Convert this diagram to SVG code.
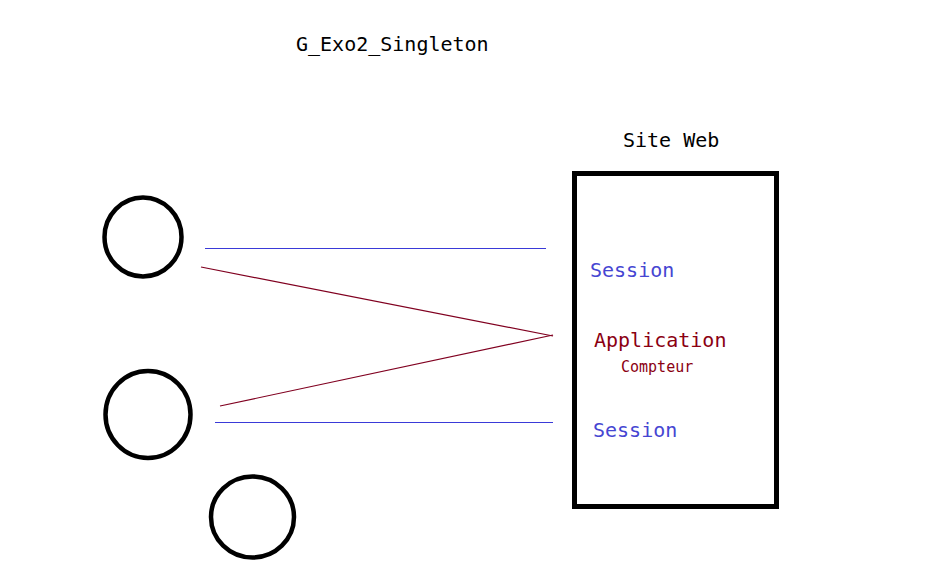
<svg xmlns="http://www.w3.org/2000/svg" width="927" height="563" viewBox="0 0 927 563">
<style>
text{font-family:"DejaVu Sans Mono","Liberation Mono",monospace;font-size:20px}
.title{fill:#000}
.blue{fill:#4646d2}
.red{fill:#8b0012}
.small{font-size:15px}
.client{fill:none;stroke:#000;stroke-width:4.5}
.bl{stroke:#3a3ad8;stroke-width:1.2;fill:none}
.rl{stroke:#800020;stroke-width:1.2;fill:none}
</style>
<rect width="927" height="563" fill="#fff"/>
<text class="title" x="296" y="51">G_Exo2_Singleton</text>
<g id="client1"><ellipse class="client" cx="143" cy="237" rx="38.5" ry="39.5"/></g>
<g id="client2"><ellipse class="client" cx="148" cy="414.5" rx="42.5" ry="43.5"/></g>
<g id="client3"><ellipse class="client" cx="252.5" cy="517" rx="41.5" ry="40.5"/></g>
<g id="siteweb">
<text class="title" x="623" y="147">Site Web</text>
<rect x="574.5" y="173.5" width="202" height="333" fill="none" stroke="#000" stroke-width="5"/>
<text class="blue" x="590" y="277">Session</text>
<text class="red" x="594" y="347">Application</text>
<text class="red small" x="621" y="372">Compteur</text>
<text class="blue" x="593" y="437">Session</text>
</g>
<g id="connectors">
<line class="bl" x1="205" y1="248.5" x2="546" y2="248.5"/>
<line class="rl" x1="201" y1="267" x2="553" y2="336"/>
<line class="rl" x1="220" y1="406" x2="553" y2="335"/>
<line class="bl" x1="215" y1="422.5" x2="553" y2="422.5"/>
</g>
</svg>
